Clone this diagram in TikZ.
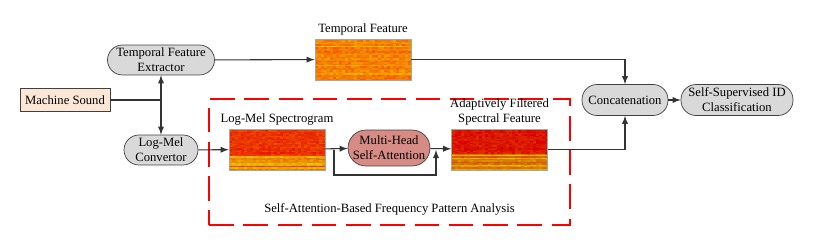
\documentclass[tikz,border=0pt]{standalone}
\usepackage{fontspec}
\setmainfont{Liberation Serif}
\usepackage{xcolor}
\usetikzlibrary{arrows,calc,positioning}

\definecolor{pillgray}{RGB}{217,217,217}
\definecolor{soundfill}{RGB}{252,230,214}
\definecolor{attnfill}{RGB}{214,140,132}

% fills a spectrogram node: seed, row base expression, cell noise, shade
\newcommand{\specfill}[4]{%
    \pgfmathsetseed{#1}
    \foreach \r in {0,...,29}{
        \pgfmathsetmacro\rowbase{#2}
        \foreach \c in {0,...,31}{
            \pgfmathsetmacro\p{max(0,min(100,\rowbase+#3*(rnd-0.5)))}
            \fill[red!\p!yellow!#4!black] ($(path picture bounding box.north west)+(\c*3,\r*1.367)$) rectangle ++(3.05,1.4);
        }
    }
}

\begin{document}
\begin{tikzpicture}[
    x=0.02cm, y=-0.02cm,
    font=\rmfamily\fontsize{7.2}{8.6}\selectfont,
    pill/.style={draw=black!75, fill=pillgray, rectangle, rounded corners=0.3cm, minimum height=0.6cm, align=center, inner sep=1pt},
    sound/.style={draw=black!75, fill=soundfill, rectangle, minimum width=1.8cm, minimum height=0.46cm, inner sep=1pt},
    attn/.style={draw=black!75, fill=attnfill, rectangle, rounded corners=0.36cm, minimum width=1.64cm, minimum height=0.72cm, align=center, inner sep=1pt},
    spec/.style={draw=black!35, rectangle, minimum width=1.92cm, minimum height=0.82cm, inner sep=0pt},
    caption/.style={inner sep=0pt, align=center},
    redbox/.style={draw=red, line width=1.1pt, dash pattern=on 14pt off 5.5pt, rectangle, minimum width=7.22cm, minimum height=2.52cm},
    arrow/.style={-latex, draw=black!80, line width=0.6pt},
    line/.style={draw=black!80, line width=0.6pt}
]
    \useasboundingbox (0,0) rectangle (814,246);

    % Input and front end
    \node [sound] (sound) at (65,100) {Machine Sound};
    \node [pill, minimum width=2.14cm] (extractor) at (161,60) {Temporal Feature\\Extractor};
    \node [pill, minimum width=1.48cm] (convertor) at (161,150) {Log-Mel\\Convertor};
    \coordinate (split) at (161,100);

    % Frequency pattern analysis block
    \node [redbox] (analysis) at (389.5,162) {};
    \node [caption, anchor=south, yshift=6pt] at (analysis.south) {Self-Attention-Based Frequency Pattern Analysis};

    \node [spec, path picture={\specfill{11}{\r<20 ? 74+10*rnd : 15+55*rnd}{22}{92}}] (logmel) at (277,149.5) {};
    \node [caption, above=1.5pt of logmel] (logmel_lbl) {Log-Mel Spectrogram};

    \node [attn] (attention) at (389,148) {Multi-Head\\Self-Attention};

    \node [spec, path picture={\specfill{23}{\r<18 ? 86+10*rnd : 12+60*rnd}{22}{86}}] (filtered) at (499.5,149.5) {};
    \node [caption, above=1.5pt of filtered] (filtered_lbl) {Adaptively Filtered\\Spectral Feature};

    \coordinate (skip) at (334,150);
    \coordinate (merge) at (436,150);

    % Temporal branch
    \node [spec, path picture={\specfill{7}{rnd>0.85 ? 25+12*rnd : 44+10*rnd}{24}{96}}] (temporal) at (363,59.5) {};
    \node [caption, above=1.5pt of temporal] (temporal_lbl) {Temporal Feature};

    % Fusion and output
    \node [pill, minimum width=1.72cm, minimum height=0.62cm] (concat) at (625,100) {Concatenation};
    \node [pill, minimum width=2.24cm, minimum height=0.62cm] (classify) at (737,100) {Self-Supervised ID\\Classification};

    % Connections
    \draw [line] (sound) -- (split);
    \draw [arrow] (split) -- (extractor.south);
    \draw [arrow] (split) -- (convertor.north);

    \draw [arrow] (extractor) -- (temporal);
    \draw [arrow] (temporal) -| (concat.north);

    \draw [arrow] (convertor) -- (logmel);
    \draw [arrow] (logmel) -- (attention);
    \draw [arrow] (skip) -- ++(0,25) -| (merge);
    \draw [arrow] (attention) -- (filtered);
    \draw [arrow] (filtered) -| (concat.south);

    \draw [arrow] (concat) -- (classify);

\end{tikzpicture}
\end{document}
